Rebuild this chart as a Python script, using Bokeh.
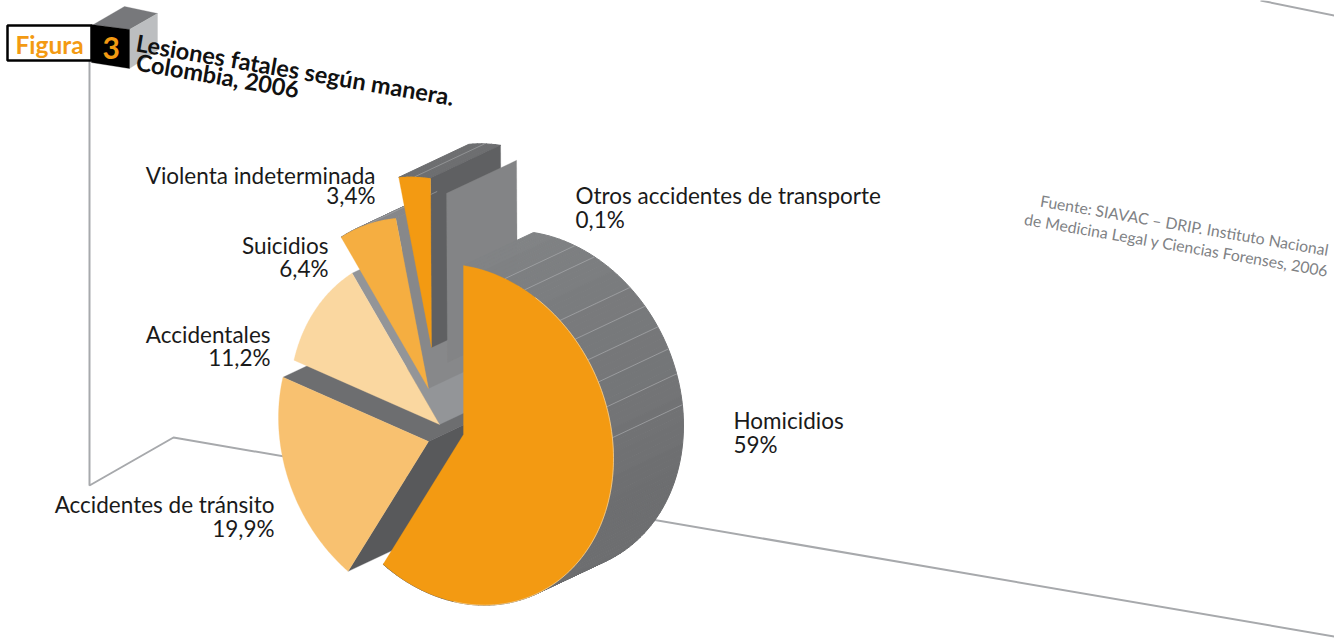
import numpy as np
from bokeh.embed import file_html
from bokeh.models import Range1d
from bokeh.plotting import figure
from bokeh.resources import INLINE
from bokeh.core.properties import value

# ---- data -----------------------------------------------------------
categories = ["Homicidios", "Accidentes de tránsito", "Accidentales", "Suicidios",
              "Violenta indeterminada", "Otros accidentes de transporte"]
shares = [59, 19.9, 11.2, 6.4, 3.4, 0.1]
share_labels = ["59%", "19,9%", "11,2%", "6,4%", "3,4%", "0,1%"]
title_lines = ["Lesiones fatales según manera.", "Colombia, 2006"]
source_lines = ["Fuente: SIAVAC – DRIP. Instituto Nacional",
                "de Medicina Legal y Ciencias Forenses, 2006"]

# ---- layout and style -------------------------------------------------
W, H = 1334, 642
AX_A = np.array([150.0, 24.0])     # image of the pie's "sine" axis
AX_B = np.array([0.0, -169.0])     # image of the pie's "cosine" axis
DEPTH = np.array([70.0, -33.0])    # extrusion
apexes = [(463, 434), (428, 441), (439, 424), (428, 388), (431, 347), (447, 362)]
face_colors = ["#f39a12", "#f8c170", "#fad7a0", "#f5ae41", "#f39a12", "#f39a12"]
FONT = "Lato"
GRID = "#a7a9ac"
HAIRLINE_ANGLES = [16, 24, 40, 48, 56, 64, 72.6, 83]

edges = np.concatenate([[0], np.cumsum(shares)]) / np.sum(shares) * 2 * np.pi


def pt(apex, th):
    th = np.asarray(th, dtype=float)
    c = np.asarray(apex, dtype=float)
    return c[0] + AX_A[0] * np.sin(th) + AX_B[0] * np.cos(th), c[1] + AX_A[1] * np.sin(th) + AX_B[1] * np.cos(th)


def arc(apex, t0, t1, n=90):
    return pt(apex, np.linspace(t0, t1, n))


def shift_poly(x0, y0):
    return (list(x0) + list(np.asarray(x0)[::-1] + DEPTH[0]),
            list(y0) + list(np.asarray(y0)[::-1] + DEPTH[1]))


p = figure(width=W, height=H, x_range=Range1d(0, W), y_range=Range1d(H, 0),
           output_backend="svg", toolbar_location=None, min_border=0,
           background_fill_color="white", border_fill_color="white", outline_line_color=None)
p.xaxis.visible = False
p.yaxis.visible = False
p.xgrid.visible = False
p.ygrid.visible = False


def poly(x, y, color, lw=0.3):
    p.patch(list(x), list(y), fill_color=color, line_color=color, line_width=lw)


def seg_wall(apex, th, color):
    x, y = pt(apex, th)
    poly(*shift_poly([apex[0], float(x)], [apex[1], float(y)]), color)


def rim_quads(apex, t0, t1, color_at, n=60):
    """Extruded rim as small quads, so the tangent edge is filled properly."""
    th = np.linspace(t0, t1, n)
    x, y = pt(apex, th)
    for k in range(n - 1):
        poly(*shift_poly(x[k:k + 2], y[k:k + 2]), color_at(th[k]), lw=1.0)


# back frame
p.line([89, 89, 173, 1334], [60, 485, 437, 636], line_color=GRID, line_width=2)
p.line([1260, 1334], [0, 15], line_color=GRID, line_width=2)

# Figure marker
poly([93, 124, 157, 129], [24, 6, 13, 29], "#77787b")
poly([129, 157, 157, 129], [29, 13, 50, 68], "#bcbec0")
poly([91, 129, 129, 91], [24, 29, 68, 62], "#000000")
p.quad(left=[7], right=[91], top=[25], bottom=[60], fill_color="white", line_color="black", line_width=2.5)
p.text([15], [43.5], text=["Figura"], text_font=value(FONT), text_font_style="bold",
       text_font_size="24.5px", text_color="#f39a12", text_baseline="alphabetic")
p.text([102], [47], text=["3"], text_font=value(FONT), text_font_style="bold",
       text_font_size="30px", text_color="#f39a12", text_baseline="alphabetic")

# walls and rims, back to front
seg_wall(apexes[1], edges[2], "#6d6e70")
seg_wall(apexes[1], edges[1], "#58595b")
seg_wall(apexes[2], edges[3], "#939598")
rim_quads(apexes[3], edges[3], edges[4], lambda t: "#86878a", 12)
seg_wall(apexes[3], edges[4], "#87888a")
rim_quads(apexes[4], edges[4], edges[5], lambda t: "#6d6e70", 8)
seg_wall(apexes[4], edges[5], "#5f6062")
seg_wall(apexes[5], edges[5], "#838486")

# main slice's rim, shaded in bands that follow its hairlines
hi = np.array([0x81, 0x83, 0x85])
lo = np.array([0x6d, 0x6e, 0x70])


def rim_color(t):
    f = min((np.degrees(t) // 8) * 8 / 104, 1)
    r, g, bl = (hi + (lo - hi) * f).astype(int)
    return f"#{r:02x}{g:02x}{bl:02x}"


rim_quads(apexes[0], edges[0], edges[1], rim_color, 107)
for a in HAIRLINE_ANGLES:
    x, y = pt(apexes[0], np.radians(a))
    p.line([float(x), float(x) + DEPTH[0]], [float(y), float(y) + DEPTH[1]], line_color="#a9abad", line_width=0.7)

# rim hairlines of the small slices
for i in (3, 4):
    x, y = pt(apexes[i], (edges[i] + edges[i + 1]) / 2)
    p.line([float(x), float(x) + DEPTH[0]], [float(y), float(y) + DEPTH[1]], line_color="#a9abad", line_width=0.6)

# faces, with the smaller explosions drawn before the main slice
for i in (2, 1, 3, 4, 0):
    x, y = arc(apexes[i], edges[i], edges[i + 1])
    poly([apexes[i][0]] + list(x), [apexes[i][1]] + list(y), face_colors[i])
x, y = arc(apexes[0], edges[0] + 0.5, edges[1] - 0.5)
p.line(list(x), list(y), line_color="#fbd9a0", line_width=0.7)

# slice labels
label_specs = [(733, 420, 444, "left"), (274, 504, 528, "right"), (270, 334, 357, "right"),
               (328, 245, 268, "right"), (375, 175, 195, "right"), (575, 195, 219, "left")]
for (x0, y0, y1, al), name, lab in zip(label_specs, categories, share_labels):
    p.text([x0], [y0], text=[name], text_font=value(FONT), text_font_size="22.5px", text_color="#1a1a1a",
           text_align=al, text_baseline="alphabetic")
    p.text([x0], [y1], text=[lab], text_font=value(FONT), text_font_size="22.5px", text_color="#1a1a1a",
           text_align=al, text_baseline="alphabetic")

# title and source
for (x0, y0), line in zip([(136, 42), (136, 61)], title_lines):
    p.text([x0], [y0], text=[line], text_font=value(FONT), text_font_style="bold", text_font_size="23.5px",
           text_color="#111111", angle=-0.17, text_baseline="alphabetic")
for (x0, y0), line in zip([(1328, 249), (1328, 270)], source_lines):
    p.text([x0], [y0], text=[line], text_font=value(FONT), text_font_size="15.8px", text_color="#808285",
           text_align="right", angle=-0.17, text_baseline="alphabetic")

open("out.html", "w").write(file_html(p, INLINE))
